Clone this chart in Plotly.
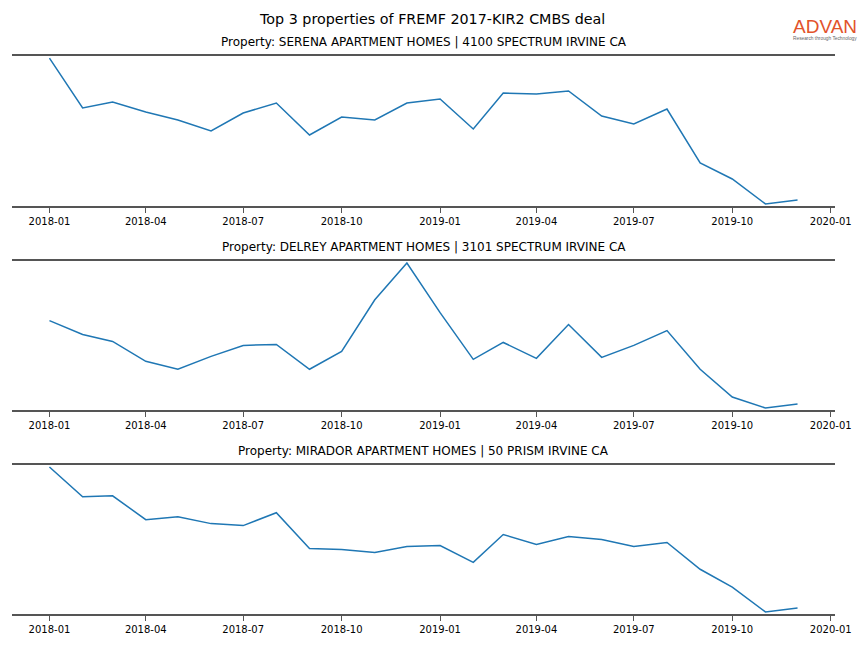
import plotly.graph_objects as go

months = ["2018-01-01","2018-02-01","2018-03-01","2018-04-01","2018-05-01","2018-06-01",
          "2018-07-01","2018-08-01","2018-09-01","2018-10-01","2018-11-01","2018-12-01",
          "2019-01-01","2019-02-01","2019-03-01","2019-04-01","2019-05-01","2019-06-01",
          "2019-07-01","2019-08-01","2019-09-01","2019-10-01","2019-11-01","2019-12-01"]

serena = [148, 98, 104, 94, 86, 75, 93, 103, 71, 89, 86, 103,
          107, 77, 113, 112, 115, 90, 82, 97, 43, 27, 2, 6]
delrey = [89, 75, 68, 48, 40, 53, 64, 65, 40, 58, 110, 147,
          97, 50, 67, 51, 85, 52, 64, 79, 40, 12, 1, 5]
mirador = [147, 117, 118, 94, 97, 90, 88, 101, 65, 64, 61, 67,
           68, 51, 79, 69, 77, 74, 67, 71, 44, 26, 1, 5]

titles = ["Property: SERENA APARTMENT HOMES | 4100 SPECTRUM IRVINE CA",
          "Property: DELREY APARTMENT HOMES | 3101 SPECTRUM IRVINE CA",
          "Property: MIRADOR APARTMENT HOMES | 50 PRISM IRVINE CA"]
main_title = "Top 3 properties of FREMF 2017-KIR2 CMBS deal"
tick_vals = ["2018-01-01","2018-04-01","2018-07-01","2018-10-01","2019-01-01",
             "2019-04-01","2019-07-01","2019-10-01","2020-01-01"]
tick_text = ["2018-01","2018-04","2018-07","2018-10","2019-01","2019-04","2019-07","2019-10","2020-01"]

W, H = 864, 648
x0, x1 = 12 / W, 835 / W
panels = [(56, 206), (261, 410), (465, 614)]  # pixel top/bottom

fig = go.Figure()
series = [serena, delrey, mirador]
for i, (vals, (top, bot)) in enumerate(zip(series, panels)):
    n = i + 1
    xa = "x" if n == 1 else f"x{n}"
    ya = "y" if n == 1 else f"y{n}"
    fig.add_trace(go.Scatter(x=months, y=vals, mode="lines",
                             line=dict(color="#1f77b4", width=1.5),
                             xaxis=xa, yaxis=ya, showlegend=False, hoverinfo="skip"))
    lo, hi = min(vals), max(vals)
    pad = (hi - lo) * 0.014
    xkey = "xaxis" if n == 1 else f"xaxis{n}"
    ykey = "yaxis" if n == 1 else f"yaxis{n}"
    fig.update_layout(**{
        xkey: dict(domain=[x0, x1], anchor=ya, type="date", automargin=False,
                   range=["2017-11-27", "2020-01-05"],
                   tickvals=tick_vals, ticktext=tick_text,
                   showline=True, mirror=True, linecolor="#555555", linewidth=2,
                   ticks="outside", ticklen=5, tickcolor="#555555", tickwidth=1,
                   showgrid=False, zeroline=False,
                   tickfont=dict(family="DejaVu Sans", size=10, color="black")),
        ykey: dict(domain=[1 - bot / H, 1 - top / H], anchor=xa, automargin=False,
                   range=[lo - pad, hi + pad],
                   showline=False, showticklabels=False, ticks="",
                   showgrid=False, zeroline=False),
    })
    fig.add_annotation(text=titles[i], x=(x0 + x1) / 2, y=1 - (top - 14) / H,
                       xref="paper", yref="paper", showarrow=False,
                       xanchor="center", yanchor="middle",
                       font=dict(family="DejaVu Sans", size=12, color="black"))

fig.add_annotation(text=main_title, x=0.5, y=1 - 19 / H, xref="paper", yref="paper",
                   showarrow=False, xanchor="center", yanchor="middle",
                   font=dict(family="DejaVu Sans", size=14.3, color="black"))
fig.add_annotation(text="ADVAN", x=824.5 / W, y=1 - 27 / H, xref="paper", yref="paper",
                   showarrow=False, xanchor="center", yanchor="middle",
                   font=dict(family="Liberation Sans", size=19, color="#E2532B"))
fig.add_annotation(text="Research through Technology", x=824.5 / W, y=1 - 38 / H,
                   xref="paper", yref="paper", showarrow=False,
                   xanchor="center", yanchor="middle",
                   font=dict(family="Liberation Sans", size=4.8, color="#666666"))

fig.update_layout(template="none", width=W, height=H,
                  margin=dict(l=0, r=0, t=0, b=0, pad=0),
                  paper_bgcolor="white", plot_bgcolor="white", hovermode=False)
fig.write_html("out.html", config={"displayModeBar": False},
               post_script="document.body.style.margin='0';document.body.style.overflow='hidden';")
